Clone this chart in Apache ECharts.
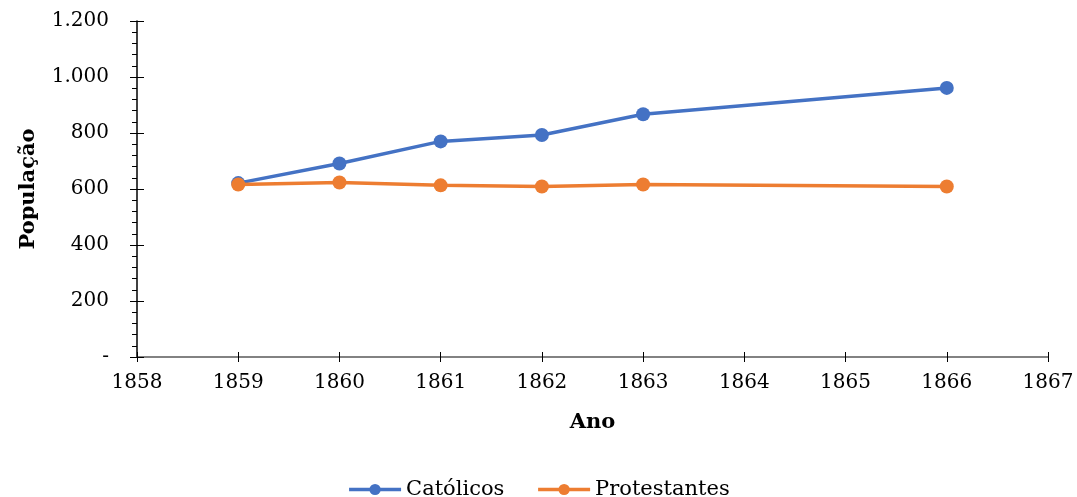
<!DOCTYPE html>
<html>
<head>
<meta charset="utf-8">
<script src="https://cdn.jsdelivr.net/npm/echarts@6/dist/echarts.min.js"></script>
<style>
  html, body { margin: 0; padding: 0; background: #fff; }
  #chart { width: 1077px; height: 497px; }
</style>
</head>
<body>
<div id="chart"></div>
<script>
const years = [1859, 1860, 1861, 1862, 1863, 1866]
const catolicos = [621, 691, 770, 793, 867, 961]
const protestantes = [616, 623, 613, 609, 616, 609]
const seriesNames = ['Católicos', 'Protestantes']

const font = 'DejaVu Serif'

function formatPop(value) {
  if (value === 0) return '-'
  return String(value).replace(/\B(?=(\d{3})+(?!\d))/g, '.')
}

const chart = echarts.init(document.getElementById('chart'))

chart.setOption({
  animation: false,
  backgroundColor: '#fff',
  color: ['#4472C4', '#ED7D31'],
  grid: { left: 137, right: 29, top: 21, bottom: 140 },
  legend: {
    bottom: -8,
    left: 'center',
    itemWidth: 52,
    itemHeight: 14,
    itemGap: 32,
    lineStyle: { width: 3.5 },
    textStyle: { fontFamily: font, fontSize: 21, color: '#000' },
    data: seriesNames
  },
  xAxis: [
    {
      type: 'value',
      min: 1858,
      max: 1867,
      interval: 1,
      name: 'Ano',
      nameLocation: 'middle',
      nameGap: 55,
      nameTextStyle: { fontFamily: font, fontSize: 21, fontWeight: 'bold', color: '#000' },
      axisLine: { lineStyle: { color: '#595959', width: 1.5 } },
      axisTick: { show: true, length: 5, lineStyle: { color: '#000' } },
      axisLabel: { fontFamily: font, fontSize: 20, color: '#000', margin: 16, formatter: (v) => String(v) },
      splitLine: { show: false }
    },
    {
      type: 'value',
      position: 'bottom',
      min: 1858,
      max: 1867,
      interval: 1,
      axisLine: { show: false },
      axisTick: { show: true, inside: true, length: 5, lineStyle: { color: '#000' } },
      axisLabel: { show: false },
      splitLine: { show: false }
    }
  ],
  yAxis: [
    {
      type: 'value',
      min: 0,
      max: 1200,
      interval: 200,
      name: 'População',
      nameLocation: 'middle',
      nameGap: 98,
      nameTextStyle: { fontFamily: font, fontSize: 21, fontWeight: 'bold', color: '#000' },
      axisLine: { show: true, lineStyle: { color: '#000', width: 1.5 } },
      axisTick: { show: true, length: 7, lineStyle: { color: '#000' } },
      minorTick: { show: true, splitNumber: 5, length: 5, lineStyle: { color: '#000' } },
      axisLabel: { fontFamily: font, fontSize: 20, color: '#000', margin: 28, formatter: formatPop },
      splitLine: { show: false }
    },
    {
      type: 'value',
      position: 'left',
      min: 0,
      max: 1200,
      interval: 200,
      axisLine: { show: false },
      axisTick: { show: true, inside: true, length: 7, lineStyle: { color: '#000' } },
      axisLabel: { show: false },
      splitLine: { show: false }
    }
  ],
  series: [
    {
      name: seriesNames[0],
      type: 'line',
      data: years.map((y, i) => [y, catolicos[i]]),
      symbol: 'circle',
      symbolSize: 14,
      lineStyle: { width: 3.5 },
      z: 2
    },
    {
      name: seriesNames[1],
      type: 'line',
      data: years.map((y, i) => [y, protestantes[i]]),
      symbol: 'circle',
      symbolSize: 14,
      lineStyle: { width: 3.5 },
      z: 3
    }
  ]
})
</script>
</body>
</html>
